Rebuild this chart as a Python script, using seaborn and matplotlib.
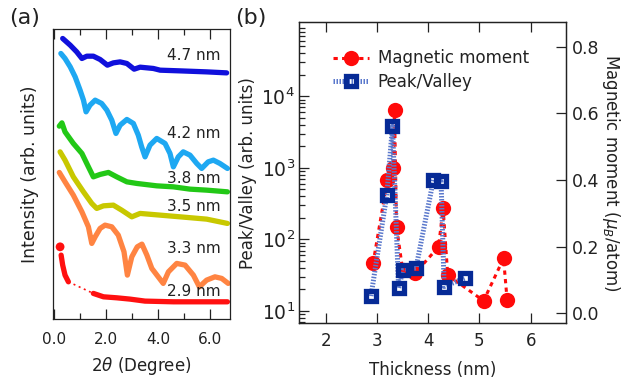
import numpy as np
import pandas as pd
import seaborn as sns
import matplotlib
matplotlib.use("Agg")
import matplotlib.pyplot as plt
from matplotlib.ticker import MultipleLocator, FormatStrFormatter, LogLocator, NullFormatter, FixedLocator
from matplotlib.lines import Line2D

# ---------------- Panel (a): XRR curves (2theta in degrees, intensity in arb. offset units)
x47 = [0.33, 0.62, 0.87, 1.07, 1.26, 1.51, 1.77, 2.05, 2.28, 2.54, 2.80, 3.08, 3.31, 3.82, 4.08, 4.85, 5.87, 6.64]
y47 = [280.7, 274, 267.3, 260.7, 263, 263, 259.7, 254, 256.3, 257.3, 255.7, 250, 252, 250.7, 249, 248.3, 247.3, 246.3]

x42 = [0.26, 0.42, 0.62, 0.81, 1.00, 1.13, 1.23, 1.38, 1.58, 1.83, 2.03, 2.22, 2.38, 2.54, 2.80, 3.05, 3.24, 3.37,
       3.50, 3.69, 3.95, 4.27, 4.46, 4.59, 4.78, 4.97, 5.23, 5.49, 5.68, 5.93, 6.13, 6.38, 6.67]
y42 = [265.7, 260.7, 252.3, 242.3, 229, 219, 207.3, 214, 219, 215.7, 209, 199, 185.7, 194, 199.7, 195.7, 184, 172.3,
       162.3, 174, 180.7, 175.7, 165.7, 152.3, 162.3, 167.3, 164, 155.7, 150.7, 157.3, 159, 155.7, 150.7]

x38 = [0.20, 0.30, 0.42, 0.74, 1.07, 1.32, 1.51, 1.77, 2.09, 2.41, 2.80, 3.18, 3.95, 4.59, 5.23, 5.87, 6.67]
y38 = [193, 196.3, 187.3, 175.7, 165.7, 152.3, 142.3, 144.7, 146.7, 142.3, 137.3, 135.7, 133.3, 132.3, 130, 129, 127.3]

x35 = [0.23, 0.42, 0.74, 1.13, 1.45, 1.64, 1.90, 2.28, 2.60, 2.99, 3.31, 4.08, 4.85, 5.87, 6.67]
y35 = [167.3, 159, 142.3, 127.3, 115.7, 110.7, 113.3, 114, 109, 102.3, 105.7, 104, 102.3, 100, 95.7]

x33 = [0.20, 0.42, 0.74, 1.07, 1.32, 1.45, 1.58, 1.77, 1.96, 2.22, 2.47, 2.69, 2.82, 2.99, 3.20, 3.38, 3.57, 3.76,
       4.20, 4.40, 4.72, 5.04, 5.36, 5.59, 5.87, 6.19, 6.45, 6.70]
y33 = [146.7, 137.3, 124, 107.3, 92.3, 75.7, 82.3, 90.7, 94, 92.3, 84, 67.3, 44, 62.3, 72.3, 75, 64, 50.7,
       35.7, 47.3, 55.7, 54, 44, 32.3, 39, 42.3, 40.7, 35.7]

x29_dot = [0.23]
y29_dot = [72.3]
x29_head = [0.27, 0.33, 0.42, 0.55]
y29_head = [64, 54, 44, 37.3]
x29_gap = [0.55, 1.51]
y29_gap = [37.3, 25.7]
x29_tail = [1.51, 1.90, 2.41, 2.92, 3.50, 4.59, 6.67]
y29_tail = [25.7, 22.3, 21.3, 20, 18, 17.3, 17.3]

curve_labels = ["4.7 nm", "4.2 nm", "3.8 nm", "3.5 nm", "3.3 nm", "2.9 nm"]
label_y = [264, 185.7, 140.7, 112.3, 70.7, 27.3]

# ---------------- Panel (b)
thick_pv = [2.88, 3.19, 3.30, 3.42, 3.51, 3.76, 4.10, 4.25, 4.31, 4.72]
peak_valley = [16.2, 420, 3800, 21, 38, 40, 680, 645, 22, 29]

thick_mm = [2.92, 3.20, 3.31, 3.34, 3.38, 3.50, 3.74, 4.20, 4.29, 4.38, 5.08, 5.47, 5.54]
mag_moment = [0.15, 0.40, 0.435, 0.61, 0.26, 0.13, 0.12, 0.20, 0.315, 0.115, 0.038, 0.165, 0.041]

sns.set_theme(style="ticks")
plt.rcParams['font.family'] = ['DejaVu Sans']

fig = plt.figure(figsize=(6.23, 3.84), dpi=100)

# ---------- (a)
ax = fig.add_axes([0.0856, 0.169, 0.2836, 0.755])
colors = ["#1010dc", "#1ea8f2", "#22c816", "#c8c800", "#ff8442", "#ff1010"]
curves = [(x47, y47), (x42, y42), (x38, y38), (x35, y35), (x33, y33)]
LW = 3.8
for (cx, cy), c in zip(curves, colors[:5]):
    sns.lineplot(x=cx, y=cy, ax=ax, sort=False, estimator=None, color=c, lw=LW,
                 solid_capstyle="round", solid_joinstyle="round")
red = colors[5]
sns.lineplot(x=x29_head, y=y29_head, ax=ax, sort=False, estimator=None, color=red, lw=LW,
             solid_capstyle="round", solid_joinstyle="round")
sns.lineplot(x=x29_tail, y=y29_tail, ax=ax, sort=False, estimator=None, color=red, lw=LW,
             solid_capstyle="round", solid_joinstyle="round")
sns.lineplot(x=x29_gap, y=y29_gap, ax=ax, sort=False, estimator=None, color=red, lw=1.2,
             linestyle=(0, (1.2, 2.2)))
sns.scatterplot(x=x29_dot, y=y29_dot, ax=ax, color=red, s=40, edgecolor="none")

for lab, ly in zip(curve_labels, label_y):
    ax.text(5.36, ly, lab, ha="center", va="center", fontsize=11, color="#222222")

ax.set_xlim(-0.03, 6.77)
ax.set_ylim(0, 290)
ax.set_yticks([])
ax.xaxis.set_major_locator(MultipleLocator(2))
ax.xaxis.set_minor_locator(MultipleLocator(1))
ax.xaxis.set_major_formatter(FormatStrFormatter('%.1f'))
ax.tick_params(axis='x', which='both', direction='in', top=True, bottom=True, labelsize=11, pad=9,
               color="#222222", labelcolor="#222222")
ax.tick_params(axis='x', which='major', length=7, width=0.9)
ax.tick_params(axis='x', which='minor', length=4, width=0.9)
ax.set_xlabel(r"2$\theta$ (Degree)", fontsize=12, color="#222222", labelpad=6)
ax.set_ylabel("Intensity (arb. units)", fontsize=12.5, color="#222222", labelpad=10)
for s in ax.spines.values():
    s.set_linewidth(0.9)
    s.set_color("#222222")
fig.text(0.04, 0.953, "(a)", fontsize=16, ha="center", va="center", color="#222222")

# ---------- (b)
axb = fig.add_axes([0.4804, 0.1576, 0.4289, 0.7859])
axm = axb.twinx()

navy = "#062a96"
sq_kw = dict(marker="s", markersize=7.0, markeredgewidth=3.8, markerfacecolor="none",
             markeredgecolor=navy)
sns.lineplot(x=thick_pv, y=peak_valley, ax=axb, sort=False, estimator=None,
             color="#5a78cc", lw=3.6, linestyle=(0, (0.3, 0.3)), **sq_kw)
sns.lineplot(x=thick_mm, y=mag_moment, ax=axm, sort=False, estimator=None,
             color="#ff0a0a", lw=2.2, linestyle=(0, (1.4, 1.4)),
             marker="o", markersize=11, markeredgewidth=0, markerfacecolor="#ff0a0a")

axb.set_zorder(axm.get_zorder() + 1)
axb.patch.set_visible(False)

axb.set_yscale("log")
axb.set_ylim(6.7, 1.1e5)
axb.yaxis.set_major_locator(FixedLocator([1e1, 1e2, 1e3, 1e4]))
axb.yaxis.set_minor_locator(LogLocator(base=10, subs=np.arange(2, 10)))
axb.yaxis.set_minor_formatter(NullFormatter())
axb.set_xlim(1.48, 6.70)
axb.xaxis.set_major_locator(MultipleLocator(1))
axm.set_ylim(-0.03, 0.875)
axm.yaxis.set_major_locator(FixedLocator([0.0, 0.2, 0.4, 0.6, 0.8]))
axm.yaxis.set_major_formatter(FormatStrFormatter('%.1f'))

axb.tick_params(axis='x', which='major', direction='in', top=True, bottom=True, length=7, width=0.9,
                labelsize=12, pad=6, color="#222222", labelcolor="#222222")
axb.tick_params(axis='y', which='major', direction='in', left=True, right=False, length=7, width=0.9,
                labelsize=13.5, pad=3, color="#222222", labelcolor="#222222")
axb.tick_params(axis='y', which='minor', direction='in', left=True, right=False, length=4, width=0.9,
                color="#222222")
axm.tick_params(axis='y', which='major', direction='in', length=7, width=0.9,
                labelsize=12.5, pad=4, color="#222222", labelcolor="#222222")
for a in (axb, axm):
    for s in a.spines.values():
        s.set_linewidth(0.9)
        s.set_color("#222222")

axb.set_xlabel("Thickness (nm)", fontsize=12, color="#222222", labelpad=8)
axb.set_ylabel("Peak/Valley (arb. units)", fontsize=12, color="#222222", labelpad=3)
axm.set_ylabel(r"Magnetic moment ($\mu_B$/atom)", fontsize=12, color="#222222",
               rotation=270, labelpad=16)
fig.text(0.402, 0.953, "(b)", fontsize=16, ha="center", va="center", color="#222222")

h1 = Line2D([], [], color="#ff0a0a", lw=2.2, linestyle=(0, (1.4, 1.4)),
            marker="o", markersize=11, markeredgewidth=0)
h2 = Line2D([], [], color="#5a78cc", lw=3.6, linestyle=(0, (0.3, 0.3)), **sq_kw)
axb.legend([h1, h2], ["Magnetic moment", "Peak/Valley"], loc="upper left",
           bbox_to_anchor=(0.1, 0.93), frameon=False, fontsize=12, handlelength=2.2,
           handletextpad=0.5, labelspacing=0.35, borderaxespad=0, labelcolor="#222222")

fig.savefig("out.png", dpi=100)
